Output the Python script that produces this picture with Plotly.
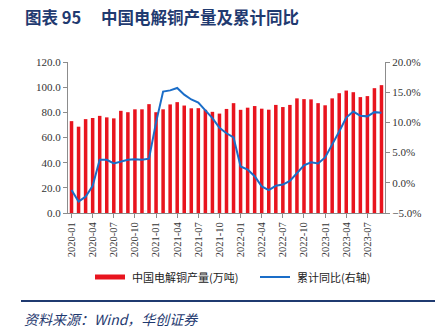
import plotly.graph_objects as go

# Monthly categories, 2020-01 .. 2023-09
months = [f"{y}-{m:02d}" for y in (2020, 2021, 2022, 2023) for m in range(1, 13)][:45]

# China electrolytic copper output (10k tonnes)
output = [73.0, 68.6, 74.6, 75.5, 77.2, 76.0, 75.2, 81.2, 80.1, 82.4, 82.4, 86.5,
          80.1, 82.4, 86.3, 88.1, 85.4, 83.2, 83.3, 82.0, 80.4, 79.0, 82.7, 87.3,
          82.0, 83.7, 85.0, 82.9, 82.1, 85.9, 84.2, 85.9, 91.1, 90.5, 90.3, 87.3,
          85.6, 91.1, 95.2, 97.3, 96.0, 92.1, 92.9, 99.2, 101.6]

# Cumulative year-on-year change (%)
cum_yoy = [-1.2, -3.1, -2.3, -0.5, 3.8, 3.8, 3.2, 3.5, 3.8, 3.9, 3.8, 4.0,
           10.0, 15.1, 15.3, 15.7, 14.6, 13.8, 13.3, 12.0, 10.7, 9.1, 8.2, 7.5,
           2.7, 2.2, 1.1, -0.6, -1.2, -0.5, -0.3, 0.3, 1.6, 2.9, 3.4, 3.2,
           4.2, 6.3, 8.5, 10.8, 11.8, 11.1, 11.0, 11.7, 11.6]

tick_months = months[::3]

bar_name = "中国电解铜产量(万吨)"
line_name = "累计同比(右轴)"
title_no = "图表 95"
title_txt = "中国电解铜产量及累计同比"
source_txt = "资料来源：Wind，华创证券"

RED = "#E8141E"
BLUE = "#1A6DC8"
NAVY = "#1F3A70"
AXIS = "#8C8C8C"
SERIF = "Liberation Serif"
TICKFONT = dict(family=SERIF, size=11, color="#333333")
CJK = "Noto Sans CJK SC"

W, H = 439, 330
L, R, T, B = 68, 54, 62, 117
PW, PH = W - L - R, H - T - B


def px(x):
    return (x - L) / PW


def py(y):
    return (H - B - y) / PH


fig = go.Figure()
fig.add_trace(go.Bar(x=months, y=output, name=bar_name, marker=dict(color=RED, line=dict(width=0)),
                     yaxis="y"))
fig.add_trace(go.Scatter(x=months, y=cum_yoy, name=line_name, mode="lines",
                         line=dict(color=BLUE, width=2), yaxis="y2"))

fig.update_layout(
    width=W, height=H,
    margin=dict(l=L, r=R, t=T, b=B, pad=0),
    paper_bgcolor="white", plot_bgcolor="white",
    showlegend=False,
    bargap=0.5,
    xaxis=dict(type="category", tickmode="array", tickvals=tick_months, ticktext=tick_months,
               tickangle=-90, tickfont=dict(family=SERIF, size=10.5, color="#333333"),
               showline=True, linecolor=AXIS, linewidth=1, ticks="outside", ticklen=4,
               tickcolor=AXIS, showgrid=False, zeroline=False, range=[-0.5, 44.5]),
    yaxis=dict(range=[0, 120], dtick=20, tickformat=".1f", tickfont=TICKFONT,
               showline=True, linecolor=AXIS, linewidth=1, ticks="outside", ticklen=4,
               tickcolor=AXIS, showgrid=False, zeroline=False),
    yaxis2=dict(range=[-5, 20], dtick=5, tickformat=".1f", ticksuffix="%", tickfont=TICKFONT,
                overlaying="y", side="right", showline=True, linecolor=AXIS, linewidth=1,
                ticks="outside", ticklen=4, tickcolor=AXIS, showgrid=False, zeroline=False),
)

annotations = [
    dict(text=f"<b>{title_no}</b>", x=px(23), y=py(17), xanchor="left", yanchor="middle",
         font=dict(family=CJK, size=16.5, color=NAVY)),
    dict(text=f"<b>{title_txt}</b>", x=px(99), y=py(17), xanchor="left", yanchor="middle",
         font=dict(family=CJK, size=16.5, color=NAVY)),
    dict(text=bar_name, x=px(130), y=py(277), xanchor="left", yanchor="middle",
         font=dict(family=CJK, size=11, color="#222222")),
    dict(text=line_name, x=px(295), y=py(277), xanchor="left", yanchor="middle",
         font=dict(family=CJK, size=11, color="#222222")),
    dict(text=f"<i>{source_txt}</i>", x=px(22), y=py(319), xanchor="left", yanchor="middle",
         font=dict(family=CJK, size=14, color=NAVY)),
]
for a in annotations:
    a.update(xref="paper", yref="paper", showarrow=False)
fig.update_layout(annotations=annotations)

shapes = [
    # legend swatches
    dict(type="rect", x0=px(95), x1=px(125), y0=py(274.5), y1=py(279.5),
         fillcolor=RED, line=dict(width=0)),
    dict(type="line", x0=px(260), x1=px(290), y0=py(277), y1=py(277),
         line=dict(color=BLUE, width=2)),
    # separator above the source line
    dict(type="line", x0=px(21), x1=px(435), y0=py(301), y1=py(301),
         line=dict(color=NAVY, width=2)),
]
for s in shapes:
    s.update(xref="paper", yref="paper")
fig.update_layout(shapes=shapes)

fig.write_html("out.html")
